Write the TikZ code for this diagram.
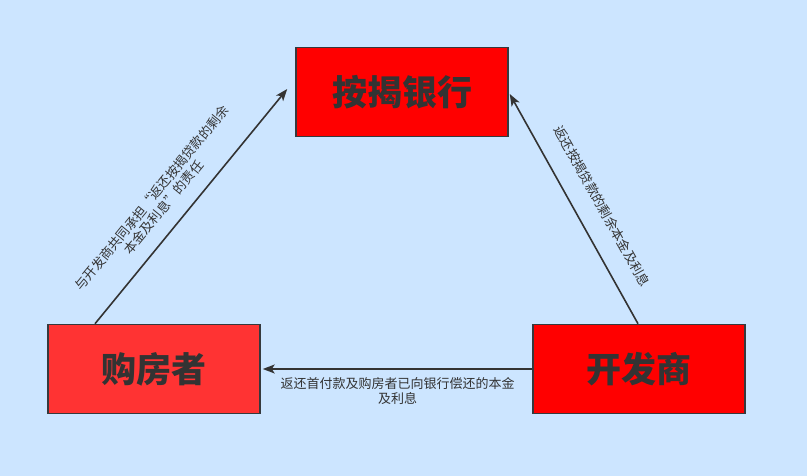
\documentclass[tikz,border=0pt]{standalone}
\usepackage{fontspec}
\setmainfont{Noto Sans CJK SC}
\usetikzlibrary{arrows.meta,positioning}
\definecolor{bgblue}{HTML}{CCE5FF}
\definecolor{redfull}{HTML}{FF0000}
\definecolor{redsoft}{HTML}{FF3333}
\definecolor{ink}{HTML}{333333}
\definecolor{edge}{HTML}{36393D}

\begin{document}
\begin{tikzpicture}[x=1pt,y=-1pt,node distance=271.5pt,>={Stealth[length=12pt,width=9pt,inset=3pt]}]
  \tikzstyle{party}=[rectangle,line width=1.5pt,draw=edge,minimum width=212pt,minimum height=89pt,text=ink,font=\fontsize{35}{42}\selectfont\bfseries]
  \tikzstyle{deal}=[text=ink,align=center,inner sep=0pt,font=\fontsize{13}{15}\selectfont]
  \tikzstyle{flow}=[->,line width=1.6pt,draw=ink]

    \fill [bgblue] (0,0) rectangle (807,476);

    \node [party,fill=redfull] (bank) at (402,92) {按揭银行};
    \node [party,fill=redsoft] (buyer) at (154,369) {购房者};
    \node [party,fill=redfull] (dev) [right=of buyer] {开发商};

    \draw [flow] ([xshift=-59pt]buyer.north) -- ([xshift=-8pt,yshift=3pt]bank.west)
        node [deal,sloped,above=14pt,pos=0.44] {与开发商共同承担“返还按揭贷款的剩余\\本金及利息”的责任};
    \draw [flow] ([xshift=-1pt]dev.north) -- ([xshift=1pt,yshift=-2pt]bank.east)
        node [deal,sloped,above=19pt,pos=0.456] {返还按揭贷款的剩余本金及利息};
    \draw [flow] (dev.west) -- ([xshift=2pt]buyer.east)
        node [deal,below=8pt,midway] {返还首付款及购房者已向银行偿还的本金\\及利息}; %P1
\end{tikzpicture}
\end{document}
